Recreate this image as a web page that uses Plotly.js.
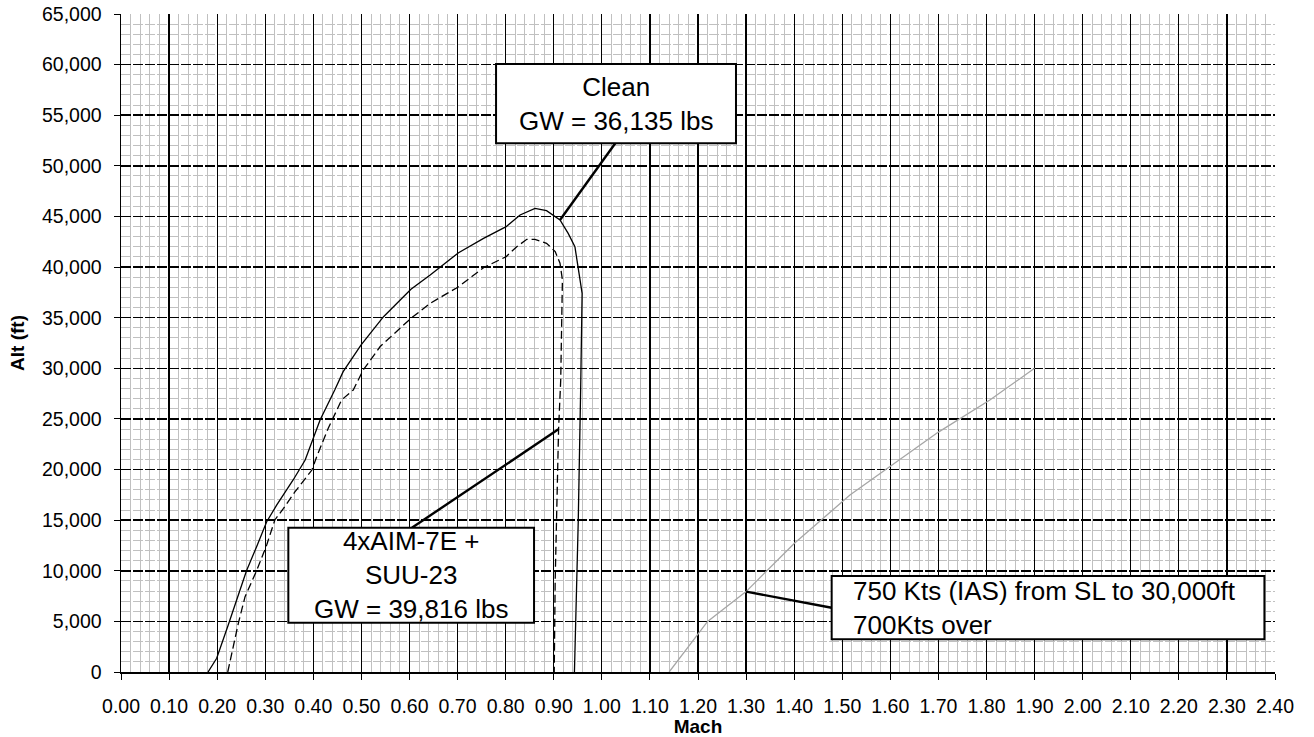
<!DOCTYPE html>
<html><head><meta charset="utf-8">
<script src="https://cdn.plot.ly/plotly-3.0.1.min.js"></script>
<style>html,body{margin:0;padding:0;background:#fff}</style>
</head><body><div id="chart" style="width:1314px;height:737px"></div>
<script>
// Clean configuration, GW = 36,135 lbs (solid)
const cleanMach = [0.181,0.199,0.223,0.241,0.261,0.282,0.303,0.324,0.358,0.383,0.400,0.414,0.445,0.462,0.499,0.546,0.603,0.643,0.702,0.754,0.801,0.830,0.861,0.885,0.913,0.930,0.944,0.953,0.959,0.956,0.951,0.943];
const cleanAlt  = [0,1350,4640,7110,10000,12380,14850,16500,18970,20940,23090,24890,27900,29670,32300,35100,37800,39220,41420,42840,43990,45150,45800,45570,44650,43330,42010,39500,37400,28000,15000,0];
// 4xAIM-7E + SUU-23, GW = 39,816 lbs (dashed)
const aimMach = [0.222,0.244,0.258,0.282,0.303,0.320,0.338,0.362,0.397,0.407,0.431,0.459,0.483,0.504,0.539,0.603,0.643,0.702,0.754,0.801,0.823,0.844,0.861,0.885,0.903,0.913,0.918,0.917,0.9145,0.910,0.906,0.903,0.901];
const aimAlt  = [0,4810,7440,10000,12550,15020,16170,17810,19950,21270,24080,26890,27860,29850,32150,34940,36420,38060,39940,41030,42010,42740,42740,42350,41530,40380,38730,35440,28840,23910,15020,9100,0];
// 750 Kts IAS limit line (gray)
const iasMach = [1.14,1.22,1.30,1.40,1.516,1.60,1.70,1.807,1.90];
const iasAlt  = [0,5000,7940,12700,17480,20280,23700,26870,30000];

// Callout boxes: [x0, x1, y0, y1] in axis units
const boxTexts = ['Clean<br>GW = 36,135 lbs', '4xAIM-7E +<br>SUU-23<br>GW = 39,816 lbs', '750 Kts (IAS) from SL to 30,000ft<br>700Kts over'];
const boxX0 = [0.780, 0.348, 1.478];
const boxX1 = [1.279, 0.859, 2.378];
const boxY0 = [52230, 4870, 3230];
const boxY1 = [60060, 14250, 9480];
const boxAlign = ['center', 'center', 'left'];
const textX = [1.0296, 0.6035, 1.519];
// Leader lines: from box edge to curve
const leadX0 = [1.028, 0.605, 1.478];
const leadY0 = [52230, 14250, 6350];
const leadX1 = [0.913, 0.9096, 1.300];
const leadY1 = [44650, 23970, 7940];

const FONT = 'Liberation Sans, Arial, sans-serif';

const traces = [
  {x: cleanMach, y: cleanAlt, mode: 'lines', line: {color: '#000', width: 1.3}, hoverinfo: 'skip'},
  {x: aimMach, y: aimAlt, mode: 'lines', line: {color: '#000', width: 1.3, dash: '8px,4px'}, hoverinfo: 'skip'},
  {x: iasMach, y: iasAlt, mode: 'lines', line: {color: '#a6a6a6', width: 1.3}, hoverinfo: 'skip'}
];

const shapes = [];
const annotations = [];
for (let i = 0; i < boxTexts.length; i++) {
  shapes.push({type: 'line', xref: 'x', yref: 'y', x0: leadX0[i], y0: leadY0[i], x1: leadX1[i], y1: leadY1[i], line: {color: '#000', width: 2.4}, layer: 'above'});
  shapes.push({type: 'rect', xref: 'x', yref: 'y', x0: boxX0[i], x1: boxX1[i], y0: boxY0[i], y1: boxY1[i], fillcolor: '#fff', line: {color: '#000', width: 2}, layer: 'above'});
  annotations.push({
    xref: 'x', yref: 'y', x: textX[i], y: (boxY0[i] + boxY1[i]) / 2,
    text: boxTexts[i], showarrow: false, align: boxAlign[i],
    xanchor: boxAlign[i] === 'left' ? 'left' : 'center', yanchor: 'middle',
    font: {family: FONT, size: 26, color: '#000'}
  });
}

const layout = {
  width: 1314, height: 737,
  margin: {l: 121, r: 39, t: 14, b: 65},
  paper_bgcolor: '#fff', plot_bgcolor: '#fff',
  showlegend: false,
  font: {family: FONT, color: '#000'},
  xaxis: {
    range: [0, 2.4], tick0: 0, dtick: 0.1, tickformat: '.2f',
    ticks: 'outside', ticklen: 6, tickcolor: '#000', tickwidth: 1,
    showline: true, linecolor: '#000', linewidth: 1.5,
    showgrid: true, gridcolor: '#000', gridwidth: 1.3, zeroline: false,
    minor: {dtick: 0.02, showgrid: true, gridcolor: '#c0c0c0', gridwidth: 1},
    tickfont: {family: FONT, size: 19.5, color: '#000'},
    ticklabelstandoff: 10,
    title: {text: '<b>Mach</b>', font: {family: FONT, size: 19, color: '#000'}, standoff: 3}
  },
  yaxis: {
    range: [0, 65000], tick0: 0, dtick: 5000, tickformat: ',',
    ticks: 'outside', ticklen: 6, tickcolor: '#000', tickwidth: 1,
    showline: true, linecolor: '#000', linewidth: 1.5,
    showgrid: true, gridcolor: '#000', gridwidth: 1.6, griddash: '10px,2px', zeroline: false,
    minor: {dtick: 1000, showgrid: true, gridcolor: '#c0c0c0', gridwidth: 1},
    tickfont: {family: FONT, size: 19.5, color: '#000'},
    ticklabelstandoff: 8,
    title: {text: '<b>Alt (ft)</b>', font: {family: FONT, size: 19, color: '#000'}, standoff: 12}
  },
  shapes: shapes,
  annotations: annotations
};

Plotly.newPlot('chart', traces, layout, {staticPlot: true, displayModeBar: false});
</script>
</body></html>
